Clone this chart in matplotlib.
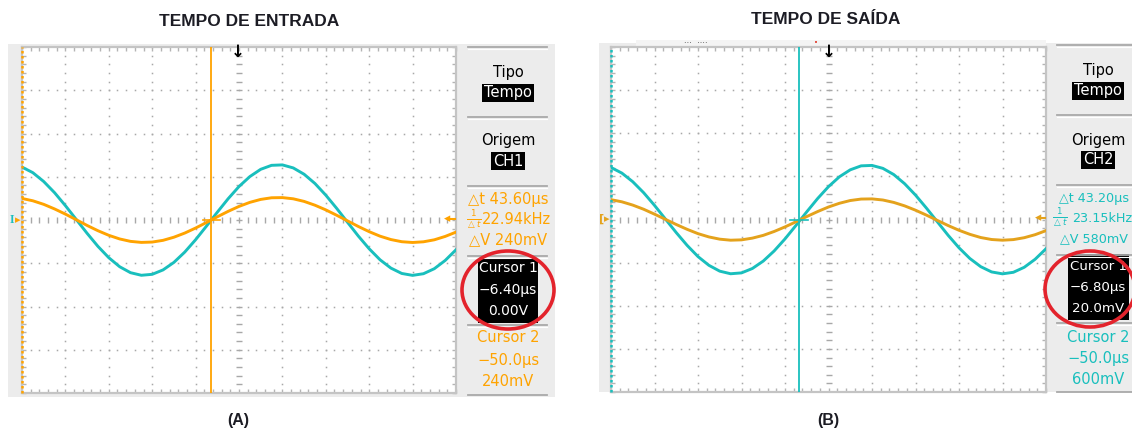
import numpy as np
import matplotlib
matplotlib.use("Agg")
import matplotlib.pyplot as plt
from matplotlib.patches import Rectangle, Ellipse
from matplotlib.lines import Line2D

# ---------------- data ----------------
t_us = [-50, -47.5, -45, -42.5, -40, -37.5, -35, -32.5, -30, -27.5, -25, -22.5, -20,
        -17.5, -15, -12.5, -10, -7.5, -5, -2.5, 0, 2.5, 5, 7.5, 10, 12.5, 15, 17.5,
        20, 22.5, 25, 27.5, 30, 32.5, 35, 37.5, 40, 42.5, 45, 47.5, 50]

# Panel A (entrada) - mV
a_cyan = [612, 547, 445, 316, 166, 6, -154, -305, -436, -540, -609, -639, -628, -577,
          -490, -371, -228, -71, 90, 246, 387, 502, 586, 632, 637, 602, 529, 422, 287,
          135, -26, -186, -333, -460, -556, -618, -640, -621, -563, -468, -344]
a_orange = [249, 222, 181, 128, 68, 3, -63, -124, -177, -219, -247, -259, -255, -235,
            -199, -151, -93, -29, 37, 100, 157, 204, 238, 257, 259, 245, 215, 171, 117,
            55, -10, -75, -135, -187, -226, -251, -260, -252, -229, -190, -140]
# Panel B (saida) - mV
b_cyan = [603, 538, 438, 311, 164, 6, -152, -300, -430, -531, -599, -629, -619, -568,
          -482, -365, -225, -70, 89, 243, 381, 495, 576, 622, 627, 593, 521, 415, 283,
          133, -25, -183, -328, -452, -547, -608, -630, -612, -554, -461, -339]
b_orange = [230, 205, 167, 119, 62, 2, -58, -114, -164, -202, -228, -240, -236, -216,
            -184, -139, -86, -27, 34, 92, 145, 188, 220, 237, 239, 226, 198, 158, 108,
            51, -10, -70, -125, -172, -209, -232, -240, -233, -211, -176, -129]

a_cursor1 = -6.4
b_cursor1 = -6.8
cursor2 = -50.0

titles = ["TEMPO DE ENTRADA", "TEMPO DE SAÍDA"]
captions = ["(A)", "(B)"]
a_info = ["Tipo", "Tempo", "Origem", "CH1", "△t 43.60µs", "22.94kHz", "△V 240mV",
          "Cursor 1", "−6.40µs", "0.00V", "Cursor 2", "−50.0µs", "240mV"]
b_info = ["Tipo", "Tempo", "Origem", "CH2", "△t 43.20µs", "23.15kHz", "△V 580mV",
          "Cursor 1", "−6.80µs", "20.0mV", "Cursor 2", "−50.0µs", "600mV"]

# ---------------- styling ----------------
W, H = 1132, 430
CYAN = "#19bfbd"
ORANGE_A = "#ffa300"
ORANGE_B = "#e4a21c"
GRAY_BG = "#ececec"
GRID = "#a8a8a8"
NARROW = ["Liberation Sans Narrow", "DejaVu Sans"]
BOLD = ["Liberation Sans", "DejaVu Sans"]

fig = plt.figure(figsize=(W / 100, H / 100), dpi=100)


def fx(x):
    return x / W


def fy(y):
    return 1 - y / H


def rect(x0, y0, x1, y1, color, z=-1):
    fig.add_artist(Rectangle((fx(x0), fy(y1)), (x1 - x0) / W, (y1 - y0) / H,
                             transform=fig.transFigure, facecolor=color,
                             edgecolor="none", zorder=z))


def hline(x0, x1, y, color, lw=1.2, z=1):
    fig.add_artist(Line2D([fx(x0), fx(x1)], [fy(y), fy(y)], transform=fig.transFigure,
                          color=color, lw=lw, zorder=z))


def text(x, y, s, **kw):
    kw.setdefault("ha", "center")
    kw.setdefault("va", "center")
    kw.setdefault("family", NARROW)
    kw.setdefault("fontsize", 10.5)
    fig.text(fx(x), fy(y), s, **kw)


def scope(ax, cyan, orange, cur1, cur_color, orange_color):
    ax.set_xlim(-50, 50)
    ax.set_ylim(-2000, 2000)
    ax.set_facecolor("white")
    # dotted graticule
    for gx in range(-40, 50, 10):
        if gx == 0:
            continue
        yy = np.arange(-2000, 2001, 100)
        ax.plot(np.full_like(yy, gx, dtype=float), yy, ls="none", marker="s", ms=1.1,
                color=GRID, mew=0, zorder=1)
    for gy in range(-1500, 2000, 500):
        if gy == 0:
            continue
        xx = np.arange(-50, 50.1, 2)
        ax.plot(xx, np.full_like(xx, gy, dtype=float), ls="none", marker="s", ms=1.1,
                color=GRID, mew=0, zorder=1)
    # center cross ticks
    xx = np.arange(-48, 49, 2)
    ax.plot(xx, np.zeros_like(xx), ls="none", marker="|", ms=4.5, mew=1.0, color=GRID, zorder=1)
    yy = np.arange(-1900, 1901, 100)
    ax.plot(np.zeros_like(yy), yy, ls="none", marker="_", ms=4.5, mew=1.0, color=GRID, zorder=1)
    # border ticks
    ax.set_xticks(np.arange(-50, 51, 10))
    ax.set_xticks(np.arange(-50, 51, 2), minor=True)
    ax.set_yticks(np.arange(-2000, 2001, 500))
    ax.set_yticks(np.arange(-2000, 2001, 100), minor=True)
    ax.tick_params(which="both", direction="in", length=3, width=1.0, color="#b4b4b4",
                   top=True, right=True, labelbottom=False, labelleft=False)
    for sp in ax.spines.values():
        sp.set_color("#c4c4c4")
        sp.set_linewidth(1.6)
    # traces
    ax.plot(t_us, cyan, color=CYAN, lw=2.1, zorder=3)
    ax.plot(t_us, orange, color=orange_color, lw=2.1, zorder=4)
    # cursors
    ax.axvline(cur1, color=cur_color, lw=1.3, zorder=5)
    ax.axvline(cursor2, color=cur_color, lw=1.8, ls=(0, (1, 1)), zorder=5, clip_on=False)
    ax.plot([cur1 - 2, cur1 + 2], [0, 0], color=cur_color, lw=1.2, zorder=5)


# gray panels
rect(8, 44, 555, 397, GRAY_BG)
rect(599, 43, 1132, 392, GRAY_BG)
rect(636, 40, 1046, 47, "#f4f4f4", z=-0.5)

ax1 = fig.add_axes([fx(22), fy(393), 434 / W, 346 / H])
ax2 = fig.add_axes([fx(611), fy(392), 435 / W, 345 / H])
scope(ax1, a_cyan, a_orange, a_cursor1, ORANGE_A, ORANGE_A)
scope(ax2, b_cyan, b_orange, b_cursor1, CYAN, ORANGE_B)

# titles / captions
text(249, 21, titles[0], family=BOLD, fontweight="bold", fontsize=12.5, color="#1c1c24")
text(826, 19, titles[1], family=BOLD, fontweight="bold", fontsize=12.5, color="#1c1c24")
text(238, 420, captions[0], family=BOLD, fontweight="bold", fontsize=11.5, color="#1c1c24")
text(828, 420, captions[1], family=BOLD, fontweight="bold", fontsize=11.5, color="#1c1c24")

# trigger arrows
text(238, 52, "↓", family=["DejaVu Sans"], fontweight="bold", fontsize=12, color="black")
text(829, 52, "↓", family=["DejaVu Sans"], fontweight="bold", fontsize=12, color="black")
# top status dots (panel B)
text(696, 43, "···  ····", family=["DejaVu Sans"], fontsize=6, color="#333333")
text(816, 43, "•", family=["DejaVu Sans"], fontsize=5, color="#e03020")

# channel markers
text(12, 220, "I", family=["Liberation Serif", "DejaVu Serif"], fontsize=8.5,
     color=CYAN, fontweight="bold")
text(18, 220, "▸", family=["DejaVu Sans"], fontsize=8, color=ORANGE_A)
text(602, 219, "[", family=["DejaVu Sans"], fontsize=8, color=ORANGE_B, fontweight="bold")
text(607, 219, "▸", family=["DejaVu Sans"], fontsize=8, color=ORANGE_B)
text(447, 219, "◂", family=["DejaVu Sans"], fontsize=9, color=ORANGE_A)
hline(449, 455, 219, ORANGE_A, lw=1.5, z=6)
text(1038, 218, "◂", family=["DejaVu Sans"], fontsize=9, color=ORANGE_B)
hline(1040, 1045, 218, ORANGE_B, lw=1.5, z=6)


def info_panel(cx, x0, x1, seps, info, col, box, ell, ys, mcx, msize, box_size):
    for y in seps:
        hline(x0, x1, y, "#a9a9a9", lw=1.3)
        hline(x0, x1, y + 1.5, "white", lw=0.8)
    bb = dict(facecolor="black", edgecolor="none", boxstyle="square,pad=0.12")
    text(cx, ys[0], info[0], color="black")
    text(cx, ys[1], info[1], color="white", bbox=bb)
    text(cx, ys[2], info[2], color="black")
    text(cx, ys[3], info[3], color="white", bbox=bb)
    text(mcx, ys[4], info[4], color=col, fontsize=msize)
    text(mcx + 8, ys[5], info[5], color=col, fontsize=msize)
    fig.text(fx(mcx - 34), fy(ys[5]), r"$\frac{1}{\triangle t}$", ha="center", va="center",
             fontsize=9, color=col)
    text(mcx, ys[6], info[6], color=col, fontsize=msize)
    rect(box[0], box[1], box[2], box[3], "black", z=0.5)
    text(cx, ys[7], info[7], color="white", fontsize=box_size)
    text(cx, ys[8], info[8], color="white", fontsize=box_size)
    text(cx, ys[9], info[9], color="white", fontsize=box_size)
    fig.add_artist(Ellipse((fx(ell[0]), fy(ell[1])), ell[2] / W, ell[3] / H,
                           transform=fig.transFigure, fill=False, edgecolor="#e3232c",
                           lw=2.6, zorder=6))
    text(cx, ys[10], info[10], color=col)
    text(cx, ys[11], info[11], color=col)
    text(cx, ys[12], info[12], color=col)


ys_a = [72, 93, 141, 161, 200, 220, 240, 268, 290, 311, 338, 360, 381]
ys_b = [71, 91, 140, 160, 198, 218, 239, 267, 288, 309, 337, 358, 380]
info_panel(508, 468, 547, [47, 117, 186, 256, 325, 395], a_info, ORANGE_A,
           (478, 258, 538, 323), (508, 290, 92, 78), ys_a, 508, 10.5, 10)
info_panel(1098, 1057, 1140, [45, 115, 185, 255, 323, 392], b_info, CYAN,
           (1068, 254, 1129, 320), (1090, 289, 90, 76), ys_b, 1094, 9.2, 9.6)

fig.savefig("out.png", dpi=100)
